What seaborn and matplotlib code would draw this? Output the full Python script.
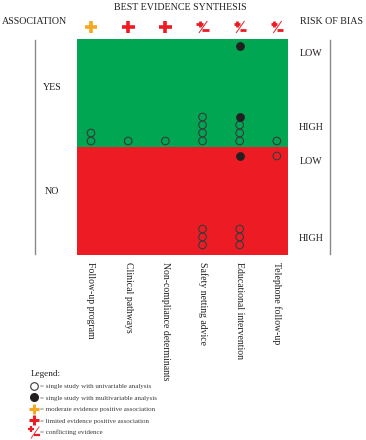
import numpy as np
import pandas as pd
import seaborn as sns
import matplotlib.pyplot as plt
from matplotlib.path import Path
from matplotlib.lines import Line2D
from matplotlib.legend_handler import HandlerTuple

# ---- data ----
interventions = ["Follow-up program", "Clinical pathways", "Non-compliance determinants",
                 "Safety netting advice", "Educational intervention", "Telephone follow-up"]
evidence = ["moderate", "limited", "limited", "conflicting", "conflicting", "conflicting"]

# one entry per study (order inside a group = stacking order)
study_intervention = [0, 0, 1, 2, 3, 3, 3, 3, 3, 3, 3,
                      4, 4, 4, 4, 4, 4, 4, 4, 4, 5, 5]
study_association = ["YES", "YES", "YES", "YES", "YES", "YES", "YES", "YES", "NO", "NO", "NO",
                     "YES", "YES", "YES", "YES", "YES", "NO", "NO", "NO", "NO", "YES", "NO"]
study_risk = ["HIGH", "HIGH", "HIGH", "HIGH", "HIGH", "HIGH", "HIGH", "HIGH", "HIGH", "HIGH", "HIGH",
              "LOW", "HIGH", "HIGH", "HIGH", "HIGH", "LOW", "HIGH", "HIGH", "HIGH", "HIGH", "LOW"]
study_analysis = ["uni", "uni", "uni", "uni", "uni", "uni", "uni", "uni", "uni", "uni", "uni",
                  "multi", "uni", "uni", "uni", "multi", "multi", "uni", "uni", "uni", "uni", "uni"]

row_labels = ["LOW", "HIGH", "LOW", "HIGH"]
assoc_labels = ["YES", "NO"]

W, H = 366, 440
green = "#00a651"
red = "#ed1c24"
orange = "#f7a823"
ink = "#231f20"
line_gray = "#8a8a8a"
fs = 7.2


def px_rect(x0, y0, x1, y1):
    return [x0 / W, 1 - y1 / H, (x1 - x0) / W, (y1 - y0) / H]


# panel y scale: 0 (bottom of red) .. 216 (top of green), 108 = split
base = {("YES", "LOW"): (209, -1), ("YES", "HIGH"): (114, 1),
        ("NO", "LOW"): (99, -1), ("NO", "HIGH"): (10, 1)}
step = 8

df = pd.DataFrame({"x": study_intervention, "assoc": study_association,
                   "risk": study_risk, "analysis": study_analysis})
df["k"] = df.groupby(["x", "assoc", "risk"]).cumcount()
df["y"] = [base[(a, r)][0] + base[(a, r)][1] * step * k
           for a, r, k in zip(df["assoc"], df["risk"], df["k"])]

# ---- icons ----
plus_path = Path([(-1, 0), (1, 0), (0, -1), (0, 1)],
                 [Path.MOVETO, Path.LINETO, Path.MOVETO, Path.LINETO])
conf_path = Path([(-0.95, 0.45), (0.05, 0.45), (-0.45, 0.95), (-0.45, -0.05),
                  (0.0, -0.55), (0.95, -0.55)],
                 [Path.MOVETO, Path.LINETO, Path.MOVETO, Path.LINETO,
                  Path.MOVETO, Path.LINETO])
slash_path = Path([(-0.6, -1.0), (0.8, 1.0)], [Path.MOVETO, Path.LINETO])

sns.set_theme(style="white", rc={"axes.facecolor": "white"})
plt.rcParams["font.family"] = ["Liberation Serif", "DejaVu Serif"]
plt.rcParams["text.color"] = ink

fig = plt.figure(figsize=(W / 100, H / 100), dpi=100)

# outer frame with the two grey rules
outer = fig.add_axes(px_rect(35, 40, 330, 254))
outer.patch.set_visible(False)
outer.set_xticks([])
outer.set_yticks([])
for side in ["top", "bottom"]:
    outer.spines[side].set_visible(False)
for side in ["left", "right"]:
    outer.spines[side].set_color(line_gray)
    outer.spines[side].set_linewidth(1)

ax = fig.add_axes(px_rect(77, 39, 288, 255))
ax.axhspan(108, 216, color=green, lw=0, zorder=0)
ax.axhspan(0, 108, color=red, lw=0, zorder=0)

uni = df[df["analysis"] == "uni"]
multi = df[df["analysis"] == "multi"]
sns.scatterplot(data=uni, x="x", y="y", ax=ax, s=30, facecolors="none",
                edgecolor="#3a3a3a", linewidth=0.8, zorder=3)
sns.scatterplot(data=multi, x="x", y="y", ax=ax, s=30, color=ink,
                edgecolor=ink, linewidth=0.8, zorder=3)

# evidence icons above each column
head = pd.DataFrame({"x": range(len(evidence)), "ev": evidence, "y": 228})
for ev, sub in head.groupby("ev"):
    if ev == "conflicting":
        ax.scatter(sub["x"], sub["y"], marker=conf_path, s=75, facecolors="none",
                   edgecolors=red, linewidths=2.0, clip_on=False)
        ax.scatter(sub["x"], sub["y"], marker=slash_path, s=75, facecolors="none",
                   edgecolors=red, linewidths=0.7, clip_on=False)
    else:
        c = orange if ev == "moderate" else red
        ax.scatter(sub["x"], sub["y"], marker=plus_path, s=85, facecolors="none",
                   edgecolors=c, linewidths=2.6, clip_on=False)

ax.set_xlim(-0.376, 5.3)
ax.set_ylim(0, 216)
ax.set_xticks(range(len(interventions)))
ax.set_xticklabels(interventions, rotation=-90, ha="center", va="top",
                   fontsize=7.0, color=ink)
ax.tick_params(axis="x", length=0, pad=5)
ax.set_yticks([])
ax.set_xlabel("")
ax.set_ylabel("")
for s in ax.spines.values():
    s.set_visible(False)

# headings
fig.text(180 / W, 1 - 8 / H, "BEST EVIDENCE SYNTHESIS", ha="center", va="center", fontsize=fs)
fig.text(35 / W, 1 - 22 / H, "ASSOCIATION", ha="center", va="center", fontsize=fs)
fig.text(332 / W, 1 - 22 / H, "RISK OF BIAS", ha="center", va="center", fontsize=fs)

for lab, yp in zip(assoc_labels, [88, 192]):
    fig.text(52 / W, 1 - yp / H, lab, ha="center", va="center", fontsize=fs)
for lab, yp in zip(row_labels, [53, 128, 161, 238]):
    fig.text(311 / W, 1 - yp / H, lab, ha="center", va="center", fontsize=fs)

# legend
legend_labels = ["= single study with univariable analysis",
                 "= single study with multivariable analysis",
                 "= moderate evidence positive association",
                 "= limited evidence positive association",
                 "= conflicting evidence"]
handles = [
    Line2D([], [], ls="", marker="o", ms=5.5, mfc="none", mec="#3a3a3a", mew=0.8),
    Line2D([], [], ls="", marker="o", ms=5.5, mfc=ink, mec=ink),
    Line2D([], [], ls="", marker=plus_path, ms=7, mfc="none", mec=orange, mew=2.2),
    Line2D([], [], ls="", marker=plus_path, ms=7, mfc="none", mec=red, mew=2.2),
    (Line2D([], [], ls="", marker=conf_path, ms=8.5, mfc="none", mec=red, mew=1.6),
     Line2D([], [], ls="", marker=slash_path, ms=8.5, mfc="none", mec=red, mew=0.6)),
]
leg = fig.legend(handles, legend_labels, title="Legend:", loc="upper left",
                 bbox_to_anchor=(31 / W, 1 - 370 / H), frameon=False,
                 fontsize=5.0, title_fontsize=6.6, alignment="left",
                 handlelength=0.9, handletextpad=0.35, labelspacing=0.8,
                 borderaxespad=0, borderpad=0,
                 handler_map={tuple: HandlerTuple(ndivide=1)})
for t in leg.get_texts():
    t.set_color("#3a3a3a")

fig.savefig("out.png", dpi=100)
